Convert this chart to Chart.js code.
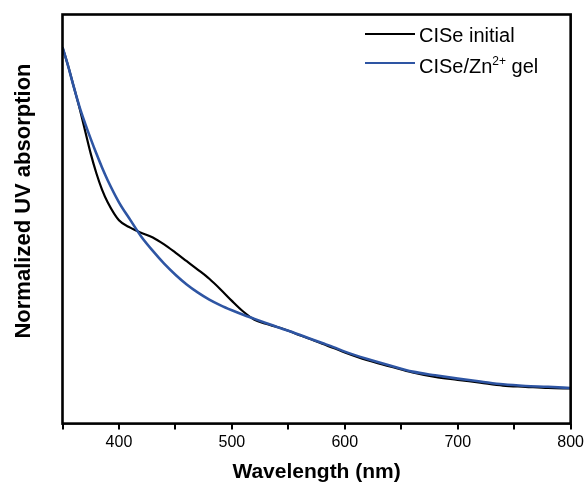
<!DOCTYPE html>
<html>
<head>
<meta charset="utf-8">
<script src="https://cdn.jsdelivr.net/npm/chart.js@4/dist/chart.umd.min.js"></script>
<style>
    html, body { margin: 0; padding: 0; background: #fff; }
    #wrap { position: relative; width: 587px; height: 490px; }
    #legend { position: absolute; left: 0; top: 0; font-family: "Liberation Sans", Arial, sans-serif; font-size: 20px; color: #000; }
    .lg-row { position: absolute; white-space: nowrap; line-height: 20px; }
    .lg-line { position: absolute; width: 50px; height: 0; }
    .lg-row sup { font-size: 12px; line-height: 0; vertical-align: 8px; }
</style>
</head>
<body>
<div id="wrap">
    <canvas id="chart" width="587" height="490"></canvas>
    <div id="legend"></div>
</div>
<script>
// wavelength (nm)
var wavelengths = [350, 355, 360, 365, 370, 375, 380, 385, 390, 400, 410, 420, 430, 440, 450, 460, 470, 480, 490,
    500, 510, 520, 530, 540, 550, 560, 570, 580, 590, 600, 620, 640, 660, 680, 700, 720, 740, 760, 780, 800];

// normalized absorption
var ciseInitial = [0.920, 0.874, 0.823, 0.772, 0.716, 0.660, 0.612, 0.572, 0.541, 0.497, 0.479, 0.466, 0.455, 0.438,
    0.418, 0.397, 0.376, 0.354, 0.328, 0.300, 0.274, 0.254, 0.244, 0.236, 0.227, 0.216, 0.206, 0.195, 0.185, 0.174,
    0.155, 0.140, 0.125, 0.114, 0.107, 0.100, 0.093, 0.090, 0.087, 0.086];
var ciseZnGel = [0.920, 0.874, 0.823, 0.775, 0.734, 0.696, 0.660, 0.626, 0.595, 0.541, 0.498, 0.456, 0.422, 0.391,
    0.364, 0.340, 0.320, 0.303, 0.289, 0.277, 0.266, 0.256, 0.246, 0.236, 0.227, 0.217, 0.207, 0.197, 0.187, 0.176,
    0.158, 0.142, 0.127, 0.118, 0.110, 0.103, 0.096, 0.092, 0.090, 0.087];

var seriesLabels = ['CISe initial', 'CISe/Zn²⁺ gel'];
var seriesColors = ['#000000', '#2E55A3'];

var xTicks = [400, 500, 600, 700, 800];
var xTitle = 'Wavelength (nm)';
var yTitle = 'Normalized UV absorption';

var fontFamily = '"Liberation Sans", Arial, sans-serif';

function toPoints(xs, ys) {
    return xs.map((x, i) => ({x: x, y: ys[i]}));
}

// box around the plot area
var framePlugin = {
    id: 'frame',
    afterDraw: function(chart) {
        let a = chart.chartArea;
        let ctx = chart.ctx;
        ctx.save();
        ctx.strokeStyle = '#000';
        ctx.lineWidth = 2.6;
        ctx.strokeRect(a.left, a.top, a.right - a.left, a.bottom - a.top);
        ctx.restore();
    }
};

// y title sits a bit above the middle of the axis in the original
var yTitlePlugin = {
    id: 'yTitle',
    afterDraw: function(chart) {
        let ctx = chart.ctx;
        ctx.save();
        ctx.translate(24, 201);
        ctx.rotate(-Math.PI / 2);
        ctx.font = 'bold 22px ' + fontFamily;
        ctx.fillStyle = '#000';
        ctx.textAlign = 'center';
        ctx.textBaseline = 'middle';
        ctx.fillText(yTitle, 0, 0);
        ctx.restore();
    }
};

var chart = new Chart(document.getElementById('chart'), {
    type: 'line',
    data: {
        datasets: [{
            label: seriesLabels[0],
            data: toPoints(wavelengths, ciseInitial),
            borderColor: seriesColors[0],
            borderWidth: 2.2,
            order: 1
        }, {
            label: seriesLabels[1],
            data: toPoints(wavelengths, ciseZnGel),
            borderColor: seriesColors[1],
            borderWidth: 2.6,
            order: 0
        }]
    },
    options: {
        responsive: false,
        animation: false,
        events: [],
        layout: {
            padding: {left: 62.5, right: 15, top: 14.5, bottom: 2}
        },
        elements: {
            point: {radius: 0},
            line: {cubicInterpolationMode: 'monotone', fill: false}
        },
        plugins: {
            legend: {display: false},
            tooltip: {enabled: false}
        },
        scales: {
            x: {
                type: 'linear',
                min: 350,
                max: 800,
                border: {display: false},
                grid: {
                    drawOnChartArea: false,
                    drawTicks: true,
                    tickLength: 6,
                    color: '#000',
                    lineWidth: 2
                },
                ticks: {
                    stepSize: 50,
                    autoSkip: false,
                    maxRotation: 0,
                    padding: 3,
                    color: '#000',
                    font: {family: fontFamily, size: 16},
                    callback: function(v) {
                        return xTicks.includes(v) ? String(v) : '';
                    }
                },
                title: {
                    display: true,
                    text: xTitle,
                    color: '#000',
                    font: {family: fontFamily, size: 21, weight: 'bold'},
                    padding: {top: 5, bottom: 3}
                }
            },
            y: {
                display: false,
                min: 0,
                max: 1
            }
        }
    },
    plugins: [framePlugin, yTitlePlugin]
});

// legend drawn as html so the superscript stays real text
var legendRows = [{top: 24.7, lineY: 34}, {top: 55.7, lineY: 63}];
var legendBox = document.getElementById('legend');
chart.data.datasets.forEach((ds, i) => {
    let line = document.createElement('div');
    line.className = 'lg-line';
    line.style.left = '365px';
    line.style.top = (legendRows[i].lineY - 1.25) + 'px';
    line.style.borderTop = '2.5px solid ' + ds.borderColor;
    legendBox.appendChild(line);

    let row = document.createElement('div');
    row.className = 'lg-row';
    row.style.left = '419px';
    row.style.top = legendRows[i].top + 'px';
    row.innerHTML = ds.label.replace('²⁺', '<sup>2+</sup>');
    legendBox.appendChild(row);
});
</script>
</body>
</html>
